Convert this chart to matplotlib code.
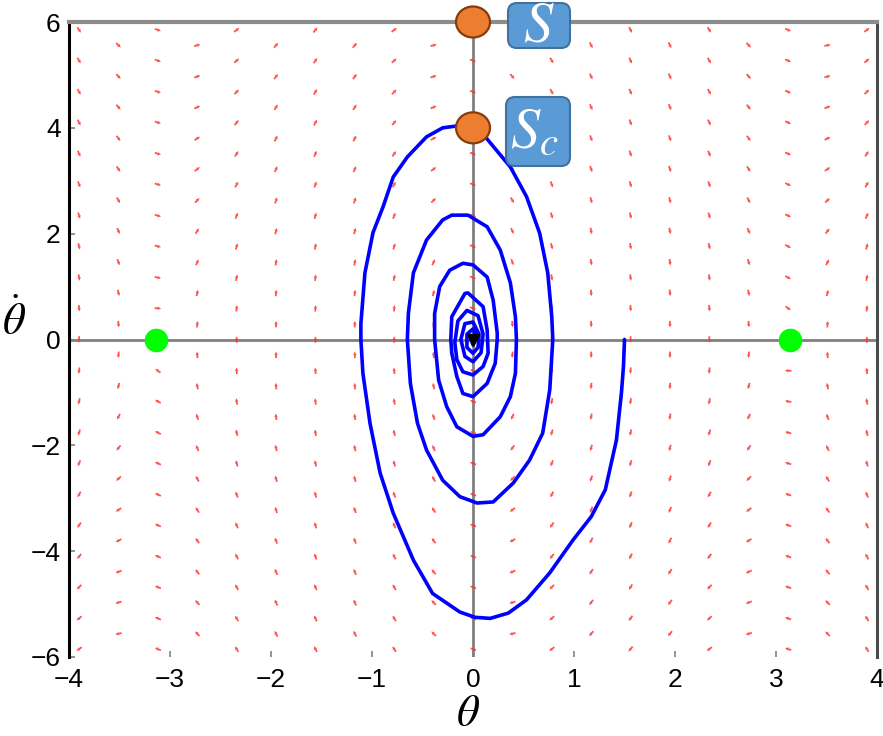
import numpy as np
import matplotlib
matplotlib.use("Agg")
import matplotlib.pyplot as plt
from matplotlib import font_manager
from matplotlib.patches import Ellipse, FancyBboxPatch
from matplotlib.transforms import IdentityTransform

installed = {f.name for f in font_manager.fontManager.ttflist}
tick_family = 'Liberation Sans Narrow' if 'Liberation Sans Narrow' in installed else 'Liberation Sans'
plt.rcParams['font.family'] = [tick_family, 'DejaVu Sans']
plt.rcParams['mathtext.fontset'] = 'stix'

# damped pendulum trajectory released from theta = 1.5 rad at rest
theta_path = [1.50, 1.49, 1.47, 1.42, 1.31, 1.17, 0.99, 0.76, 0.53, 0.35, 0.17, 0.02,
              -0.13, -0.40, -0.59, -0.79, -0.92, -1.02, -1.09, -1.11, -1.11, -1.07,
              -0.99, -0.89, -0.79, -0.65, -0.46, -0.30, -0.10, 0.10, 0.37, 0.53, 0.66,
              0.74, 0.78, 0.79, 0.76, 0.69, 0.56, 0.40, 0.20, 0.04, -0.13, -0.30,
              -0.46, -0.55, -0.62, -0.65, -0.64, -0.59, -0.46, -0.30, -0.21, -0.05,
              0.14, 0.27, 0.37, 0.42, 0.43, 0.42, 0.37, 0.27, 0.10, 0.00, -0.16,
              -0.26, -0.34, -0.38, -0.38, -0.33, -0.23, -0.10, 0.00, 0.14, 0.20,
              0.24, 0.24, 0.22, 0.14, 0.00, -0.10, -0.16, -0.21, -0.22, -0.21, -0.08,
              -0.05, 0.10, 0.14, 0.15, 0.10, 0.00, -0.10, -0.16, -0.18, -0.15, -0.06,
              0.05, 0.10, 0.08, 0.00, -0.08, -0.12, -0.08, 0.00, 0.06, 0.05, 0.00,
              -0.06, -0.06, 0.00, 0.03, 0.00, -0.02]
omega_path = [0.00, -0.50, -1.00, -1.90, -2.84, -3.35, -3.79, -4.41, -4.92, -5.17, -5.27, -5.25,
              -5.15, -4.80, -4.17, -3.28, -2.52, -1.58, -0.64, 0.00, 0.30, 1.26,
              2.02, 2.51, 3.07, 3.45, 3.83, 4.00, 4.05, 3.88, 3.26, 2.70, 2.01,
              1.26, 0.43, 0.00, -0.95, -1.77, -2.28, -2.71, -3.07, -3.09, -2.97, -2.66,
              -2.09, -1.58, -0.83, 0.00, 0.49, 1.26, 1.88, 2.26, 2.35, 2.35,
              2.13, 1.69, 1.07, 0.43, 0.00, -0.64, -1.08, -1.46, -1.80, -1.83, -1.65,
              -1.27, -0.77, 0.00, 0.49, 1.00, 1.31, 1.44, 1.41, 1.18, 0.74,
              0.12, 0.00, -0.45, -0.83, -1.08, -1.02, -0.70, -0.26, 0.00, 0.43, 0.87,
              0.88, 0.62, 0.18, -0.26, -0.51, -0.67, -0.61, -0.38, -0.06, 0.35, 0.55,
              0.45, 0.10, -0.25, -0.42, -0.32, 0.00, 0.30, 0.33, 0.10, -0.15, -0.26,
              -0.15, 0.10, 0.20, 0.05, -0.10, 0.00]

# unstable equilibria (inverted pendulum)
saddle_theta = [-3.14, 3.14]
saddle_omega = [0.0, 0.0]

# state markers on the theta-dot axis
state_theta = [0.0, 0.0]
state_omega = [6.0, 4.0]
state_labels = [r'$S$', r'$S_c$']

# lattice for direction arrows
field_cols = [-3.90, -3.51, -3.12, -2.73, -2.34, -1.95, -1.56, -1.17, -0.78, -0.39, 0.00,
              0.39, 0.78, 1.17, 1.56, 1.95, 2.34, 2.73, 3.12, 3.51, 3.90]
field_rows_a = [-5.85, -5.27, -4.68, -4.10, -3.51, -2.93, -2.34, -1.76, -1.17, -0.59, 0.00,
                0.59, 1.17, 1.76, 2.34, 2.93, 3.51, 4.10, 4.68, 5.27, 5.85]
field_rows_b = [-5.56, -4.97, -4.39, -3.80, -3.22, -2.63, -2.05, -1.46, -0.88, -0.29,
                0.29, 0.88, 1.46, 2.05, 2.63, 3.22, 3.80, 4.39, 4.97, 5.56]
g_over_l = 18.0
damping = 0.75

W, H = 883, 736
fig = plt.figure(figsize=(W / 100, H / 100), dpi=100)
ax_rect = [69 / W, 1 - 657 / H, (877 - 69) / W, (657 - 22) / H]
ax = fig.add_axes(ax_rect)
ax.set_xlim(-4, 4)
ax.set_ylim(-6, 6)

# direction field of theta'' = -(g/l) sin(theta) - c theta'
px_x = ax_rect[2] * W / 8.0
px_y = ax_rect[3] * H / 12.0
X, Y = [], []
for i, th in enumerate(field_cols):
    for om in (field_rows_a if i % 2 == 0 else field_rows_b):
        X.append(th)
        Y.append(om)
X = np.array(X)
Y = np.array(Y)
Ud = Y
Vd = -g_over_l * np.sin(X) - damping * Y
sx, sy = Ud * px_x, Vd * px_y
norm = np.hypot(sx, sy)
norm[norm == 0] = 1
arrow_len = 6.5
ax.quiver(X, Y, arrow_len * sx / norm, arrow_len * sy / norm, angles='uv',
          scale_units='dots', scale=1, units='dots', width=1.8, headwidth=2.0,
          headlength=2.0, headaxislength=1.8, pivot='middle', color='#ff3434',
          alpha=0.85, zorder=2)

# zero lines
ax.axhline(0, color='#808080', lw=2.0, zorder=1)
ax.axvline(0, color='#808080', lw=2.0, zorder=1)

ax.plot(theta_path, omega_path, color='#0000ff', lw=2.6, zorder=3,
        solid_joinstyle='round', solid_capstyle='round')
ax.plot([0], [0], marker='v', ms=8, color='black', zorder=4)

ax.plot(saddle_theta, saddle_omega, 'o', ms=16, color='#00ff00', mec='#00ff00', zorder=5,
        clip_on=False)

for th, om in zip(state_theta, state_omega):
    ax.add_patch(Ellipse((th, om), 34 / px_x, 31 / px_y, facecolor='#ED7D31',
                         edgecolor='#843C0C', lw=1.6, zorder=6, clip_on=False))

# spines
ax.spines['bottom'].set_visible(False)
ax.spines['left'].set_color('black')
ax.spines['left'].set_linewidth(2.2)
ax.spines['top'].set_color('#8c8c8c')
ax.spines['top'].set_linewidth(3.0)
ax.spines['right'].set_color('#4a4a4a')
ax.spines['right'].set_linewidth(2.2)

ax.set_xticks(range(-4, 5))
ax.set_yticks(range(-6, 7, 2))
ax.tick_params(direction='in', length=4, width=1.2, color='#808080', labelsize=19,
               top=False, right=False)
ax.tick_params(axis='x', pad=8)
ax.tick_params(axis='y', pad=6)

fig.text(468 / W, 1 - 715 / H, r'$\theta$', fontsize=32, ha='center', va='center')
fig.text(14 / W, 1 - 322 / H, r'$\dot{\theta}$', fontsize=32, ha='center', va='center')

# labelled boxes for the marked states
boxes = [(508, 3, 570, 48), (506, 97, 570, 166)]
label_pos = [(539, 26), (534, 133)]
for (x0, y0, x1, y1), (tx, ty), lab in zip(boxes, label_pos, state_labels):
    fig.add_artist(FancyBboxPatch((x0, H - y1), x1 - x0, y1 - y0,
                                  boxstyle='round,pad=0,rounding_size=9',
                                  facecolor='#5B9BD5', edgecolor='#41719C', lw=1.5,
                                  transform=IdentityTransform(), zorder=7))
    fig.text(tx / W, 1 - ty / H, lab, fontsize=42, color='white',
             ha='center', va='center', zorder=8)

fig.savefig('out.png', dpi=100)
